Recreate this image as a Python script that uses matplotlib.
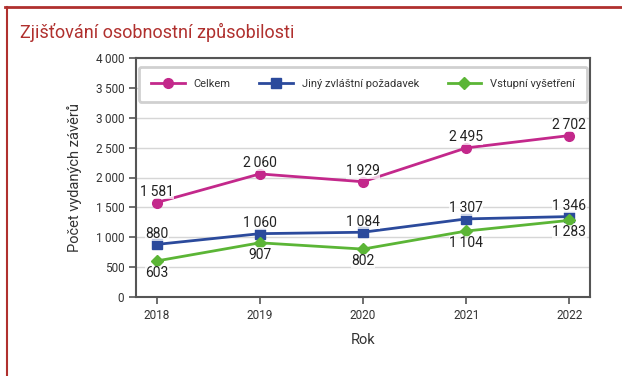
import matplotlib
matplotlib.use("Agg")
import matplotlib.pyplot as plt
from matplotlib.lines import Line2D

plt.rcParams.update({
    "font.family": ["Roboto", "DejaVu Sans"],
    "font.size": 8,
})

years = [2018, 2019, 2020, 2021, 2022]
celkem = [1581, 2060, 1929, 2495, 2702]
jiny = [880, 1060, 1084, 1307, 1346]
vstupni = [603, 907, 802, 1104, 1283]
yticks = [0, 500, 1000, 1500, 2000, 2500, 3000, 3500, 4000]


def fmt(v):
    # thousands separated by a thin space
    s = f"{v:,}"
    return s.replace(",", "\u2009")


fig = plt.figure(figsize=(6.22, 3.76), dpi=100)
W, H = 622, 376

# card frame: red top rule and left rule
fig.add_artist(Line2D([5 / W, 1], [1 - 7 / H, 1 - 7 / H], color="#b0302e", lw=2.0))
fig.add_artist(Line2D([7 / W, 7 / W], [0, 1 - 7 / H], color="#b0302e", lw=1.5))
fig.text(20 / W, 1 - 32 / H, "Zjišťování osobnostní způsobilosti", color="#b0302e",
         fontsize=13, va="center", ha="left")

ax = fig.add_axes([136 / W, 1 - 297 / H, (590 - 136) / W, (297 - 58) / H])

series = [
    ("Celkem", celkem, "#c3288b", "o", "above"),
    ("Jiný zvláštní požadavek", jiny, "#2b4a9c", "s", "above"),
    ("Vstupní vyšetření", vstupni, "#5bb536", "D", "below"),
]
for name, vals, col, mk, pos in series:
    ax.plot(years, vals, color=col, lw=2, marker=mk, ms=7 if mk != "D" else 6,
            label=name, zorder=3)
    for x, v in zip(years, vals):
        dy = 2.5 if pos == "above" else -3.5
        ax.annotate(fmt(v), (x, v), xytext=(0, dy), textcoords="offset points",
                    ha="center", va="bottom" if pos == "above" else "top",
                    fontsize=10, color="#222222", zorder=4,
                    bbox=dict(boxstyle="square,pad=0.02", fc="white", ec="none", alpha=0.75))

ax.set_xlim(2017.8, 2022.2)
ax.set_ylim(0, 4000)
ax.set_xticks(years)
ax.set_yticks(yticks)
ax.set_yticklabels([fmt(t) for t in yticks])
ax.grid(axis="y", color="#d6d6d6", lw=1)
ax.set_axisbelow(True)
for s in ax.spines.values():
    s.set_color("#555555")
    s.set_linewidth(1.5)
ax.tick_params(axis="both", colors="#555555", labelcolor="#333333", labelsize=8.5,
               length=5, width=1.2)
ax.set_xlabel("Rok", fontsize=10.5, color="#333333", labelpad=8)
ax.set_ylabel("Počet vydaných závěrů", fontsize=10.5, color="#333333", labelpad=10)

leg = ax.legend(loc="upper center", ncol=3, frameon=True, fontsize=8,
                bbox_to_anchor=(0.5, 0.985), handlelength=3.0, columnspacing=2.6,
                borderpad=1.1, fancybox=True, edgecolor="#d0d0d0", framealpha=1)
leg.get_frame().set_linewidth(2)
for t in leg.get_texts():
    t.set_color("#333333")

fig.savefig("out.png", dpi=100)
